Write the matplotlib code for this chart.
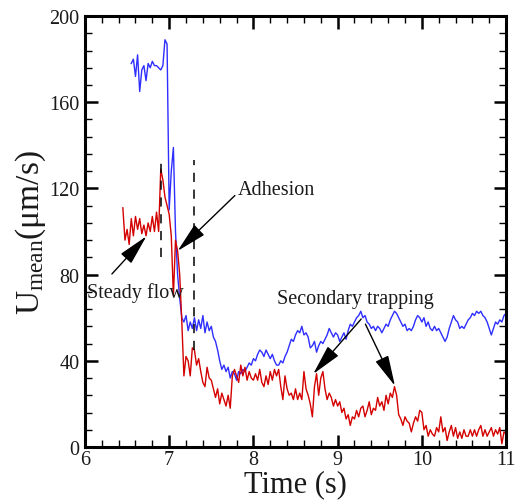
import numpy as np
import matplotlib
matplotlib.use("Agg")
import matplotlib.pyplot as plt
from matplotlib.ticker import MultipleLocator

# ---------------- data ----------------
red_t0, red_dt = 6.45, 0.025
red_v = [
    111, 96, 101, 94, 106, 98, 107, 101, 106, 99,
    103, 98, 104, 100, 107, 100, 109, 100, 129, 124,
    116, 112, 108, 98, 70, 96, 91, 80, 58, 33,
    42, 40, 33, 46, 45, 38, 41, 35, 30, 28,
    37, 32, 31, 27, 23, 27, 20, 25, 22, 19,
    24, 18, 33, 36, 33, 30, 38, 33, 37, 31,
    35, 32, 31, 34, 31, 36, 30, 28, 33, 29,
    35, 31, 36, 33, 36, 28, 22, 33, 27, 24,
    25, 22, 27, 22, 25, 22, 35, 27, 24, 20,
    14, 28, 34, 24, 32, 35, 27, 22, 25, 23,
    19, 22, 19, 21, 16, 18, 13, 15, 10, 14,
    13, 17, 14, 18, 19, 14, 17, 21, 15, 18,
    17, 23, 19, 21, 17, 24, 20, 25, 23, 28,
    24, 15, 13, 10, 14, 12, 11, 7, 11, 14,
    12, 17, 16, 8, 10, 5, 8, 6, 5, 9,
    7, 14, 7, 9, 3, 7, 10, 5, 9, 4,
    7, 4, 8, 5, 5, 8, 5, 8, 5, 8,
    10, 5, 8, 5, 7, 9, 5, 8, 6, 9,
    1.5, 7, 6,
]

blue_t0, blue_dt = 6.55, 0.025
blue_v = [
    178, 180, 172, 182, 165, 175, 177, 170, 178, 176,
    179, 177, 177, 176, 175, 177, 189, 187, 110, 128,
    139, 100, 80, 69, 60, 58, 61, 54, 58, 55,
    60, 54, 59, 55, 61, 53, 58, 54, 56, 51,
    49, 45, 40, 36, 38, 35, 37, 32, 35, 34,
    31, 35, 34, 36, 35, 37, 39, 38, 41, 40,
    43, 45, 44, 42, 45, 43, 41, 43, 40, 38,
    38, 40, 39, 42, 44, 47, 50, 49, 52, 54,
    53, 56, 52, 53, 51, 46, 47, 49, 44, 47,
    49, 48, 50, 52, 55, 53, 51, 53, 52, 49,
    51, 53, 50, 54, 57, 56, 58, 60, 61, 63,
    60, 61, 58, 57, 55, 56, 54, 56, 55, 53,
    55, 57, 56, 59, 61, 63, 62, 60, 58, 56,
    57, 54, 55, 54, 56, 59, 61, 60, 58, 60,
    56, 58, 55, 54, 56, 54, 55, 53, 51, 49,
    51, 55, 58, 61, 59, 58, 55, 56, 55, 57,
    59, 60, 62, 61, 63, 62, 63, 61, 60, 58,
    55, 52, 55, 58, 57, 59, 58, 61, 62,
]

dash_t = [6.9, 7.3]
dash_lo = [88, 45]
dash_hi = [133, 133]

annotations = [
    # text, text pos (t, v), arrow tails and heads
    ("Adhesion", (7.817, 119.7), [((7.78, 116.7), (7.10, 91.0))]),
    ("Steady flow", (6.02, 71.9), [((6.32, 80.3), (6.73, 97.8))]),
    ("Secondary trapping", (8.277, 68.7),
     [((9.28, 59.4), (8.71, 33.9)), ((9.33, 57.0), (9.68, 28.4))]),
]

red_t = red_t0 + red_dt * np.arange(len(red_v))
blue_t = blue_t0 + blue_dt * np.arange(len(blue_v))

# ---------------- style ----------------
plt.rcParams['font.family'] = ['Liberation Serif', 'DejaVu Serif']
plt.rcParams['mathtext.fontset'] = 'custom'
plt.rcParams['mathtext.rm'] = 'Liberation Serif'
plt.rcParams['mathtext.it'] = 'Liberation Serif:italic'

fig = plt.figure(figsize=(5.18, 5.02), dpi=100)
ax = fig.add_axes([0.164, 0.1076, 0.813, 0.8584])

ax.plot(blue_t, blue_v, color='#2e2eff', lw=1.0)
ax.plot(red_t, red_v, color='#d40000', lw=1.0)

for t, lo, hi in zip(dash_t, dash_lo, dash_hi):
    ax.plot([t, t], [lo, hi], color='black', lw=1.1, ls=(0, (6, 5)))

for txt, pos, arrows in annotations:
    ax.text(pos[0], pos[1], txt, fontsize=14.5, ha='left', va='center', color='#1a1a1a')
    for tail, head in arrows:
        ax.annotate('', xy=head, xytext=tail,
                    arrowprops=dict(arrowstyle='-|>,head_length=0.95,head_width=0.22',
                                    mutation_scale=20, color='black', lw=1.0,
                                    shrinkA=0, shrinkB=0))

ax.set_xlim(6, 11)
ax.set_ylim(0, 200)
ax.xaxis.set_major_locator(MultipleLocator(1))
ax.xaxis.set_minor_locator(MultipleLocator(0.2))
ax.yaxis.set_major_locator(MultipleLocator(40))
ax.yaxis.set_minor_locator(MultipleLocator(8))
ax.tick_params(which='both', direction='in', top=True, right=True, labelsize=14.5,
               colors='black', labelcolor='#1a1a1a')
ax.tick_params(which='major', length=9, width=1.8, pad=4)
ax.tick_params(axis='x', which='major', pad=2.5)
ax.tick_params(which='minor', length=5, width=1.0)
for s in ax.spines.values():
    s.set_linewidth(2.2)

ax.set_xlabel('Time (s)', fontsize=22, labelpad=0, color='#1a1a1a')
ax.set_ylabel(r'U$_{\mathrm{mean}}$(μm/s)', fontsize=24, labelpad=1, color='#1a1a1a')

fig.savefig('out.png', dpi=100)
